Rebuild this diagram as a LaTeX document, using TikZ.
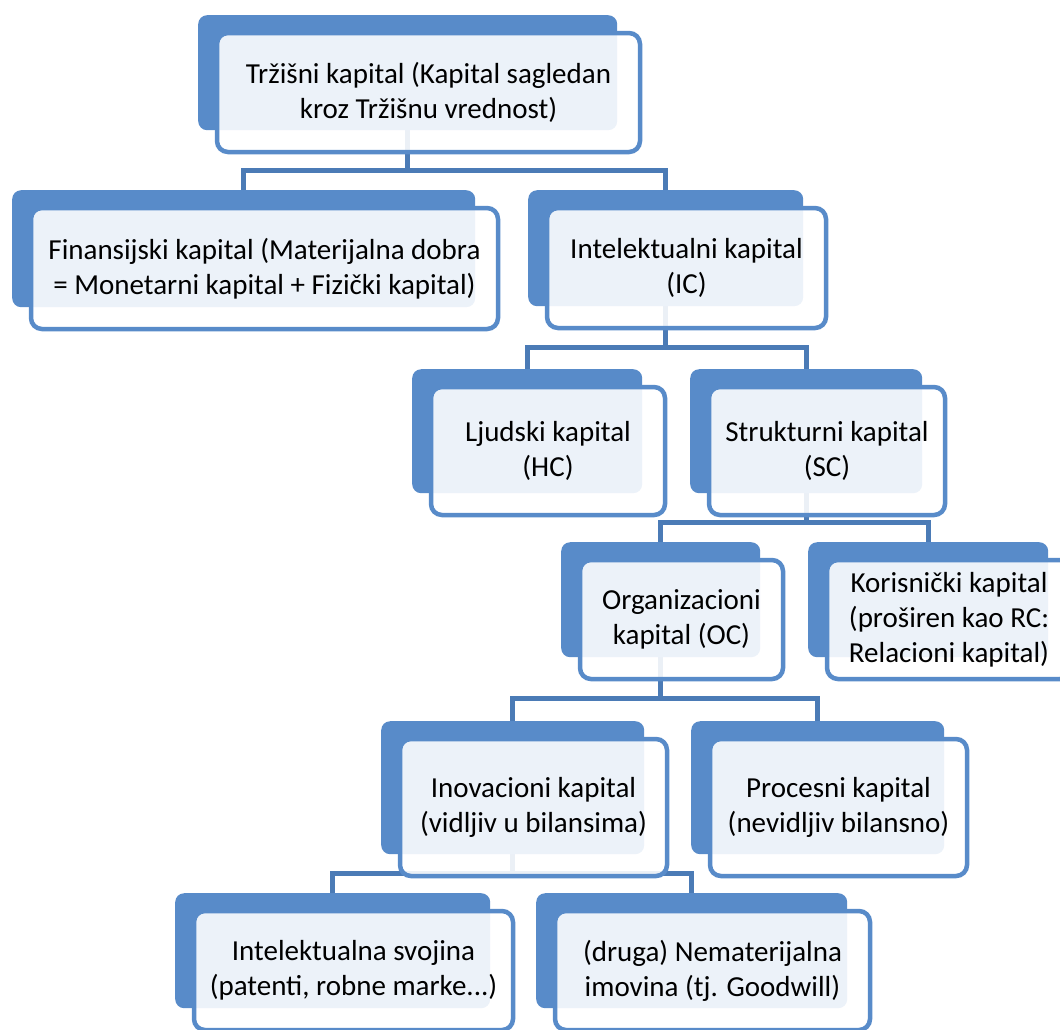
\documentclass[tikz,border=0pt]{standalone}
\usepackage{fontspec}
\setmainfont{Carlito}
\usetikzlibrary{positioning}
\pgfdeclarelayer{bg}
\pgfsetlayers{bg,main}
\definecolor{capblue}{HTML}{588BC9}
\definecolor{linkblue}{HTML}{4B7BB6}
\tikzset{
  backbox/.style 2 args={fill=capblue, rounded corners=9pt, inner sep=0pt,
    minimum width=#1, minimum height=#2, anchor=north west},
  frontbox/.style 2 args={draw=capblue, line width=4.5pt, fill=white,
    fill opacity=0.89, text opacity=1, rounded corners=11pt, inner sep=0pt,
    outer sep=0pt, minimum width=#1+4pt, minimum height=#2+4pt, align=center,
    font=\fontsize{29}{35}\selectfont},
  link/.style={draw=linkblue, line width=5pt},
}

\begin{document}
\begin{tikzpicture}[x=1pt, y=-1pt]
  \path[use as bounding box, clip] (0,0) rectangle (1060,1029);

  % Back boxes
  \node[backbox={419pt}{115pt}] (trz) at (198,15) {};
  \node[backbox={463pt}{117pt}] (fin) at (12,190) {};
  \node[backbox={275pt}{116pt}] (ic) at (528,190) {};
  \node[backbox={230pt}{124pt}] (hc) at (412,369) {};
  \node[backbox={232pt}{124pt}] (sc) at (690,369) {};
  \node[backbox={199pt}{115pt}] (oc) at (561,542) {};
  \node[backbox={240pt}{115pt}] (rc) at (808,542) {};
  \node[backbox={263pt}{133pt}] (ino) at (381,721) {};
  \node[backbox={253pt}{133pt}] (pro) at (691,721) {};
  \node[backbox={315pt}{115pt}] (ip) at (175,893) {};
  \node[backbox={311pt}{115pt}] (nm) at (536,893) {};

  % Front boxes with the texts
  \node[frontbox={419pt}{115pt}, below right=18pt and 19pt of trz.north west] (trzF)
    {Tržišni kapital (Kapital sagledan\\kroz Tržišnu vrednost)};
  \node[frontbox={463pt}{117pt}, below right=18pt and 19pt of fin.north west] (finF)
    {Finansijski kapital (Materijalna dobra\\= Monetarni kapital + Fizički kapital)};
  \node[frontbox={275pt}{116pt}, below right=18pt and 19pt of ic.north west] (icF)
    {Intelektualni kapital\\(IC)};
  \node[frontbox={230pt}{124pt}, below right=18pt and 19pt of hc.north west] (hcF)
    {Ljudski kapital\\(HC)};
  \node[frontbox={232pt}{124pt}, below right=18pt and 19pt of sc.north west] (scF)
    {Strukturni kapital\\(SC)};
  \node[frontbox={199pt}{115pt}, below right=18pt and 19pt of oc.north west] (ocF)
    {Organizacioni\\kapital (OC)};
  \node[frontbox={240pt}{115pt}, below right=18pt and 19pt of rc.north west] (rcF)
    {Korisnički kapital\\(proširen kao RC:\\Relacioni kapital)};
  \node[frontbox={263pt}{133pt}, below right=18pt and 19pt of ino.north west] (inoF)
    {Inovacioni kapital\\(vidljiv u bilansima)};
  \node[frontbox={253pt}{133pt}, below right=18pt and 19pt of pro.north west] (proF)
    {Procesni kapital\\(nevidljiv bilansno)};
  \node[frontbox={315pt}{115pt}, below right=18pt and 19pt of ip.north west] (ipF)
    {Intelektualna svojina\\(patenti, robne marke...)};
  \node[frontbox={311pt}{115pt}, below right=18pt and 19pt of nm.north west] (nmF)
    {(druga) Nematerijalna\\imovina (tj. Goodwill)};

  % Connectors
  \begin{pgfonlayer}{bg}
    \draw[link] (fin.north) -- ++(0,-20) -| (trz.south);
    \draw[link] (ic.north) -- ++(0,-20) -| (trz.south);
    \draw[link] (hc.north) -- ++(0,-22) -| (ic.south);
    \draw[link] (sc.north) -- ++(0,-22) -| (ic.south);
    \draw[link] (oc.north) -- ++(0,-20) -| (sc.south);
    \draw[link] (rc.north) -- ++(0,-20) -| (sc.south);
    \draw[link] (ino.north) -- ++(0,-23) -| (oc.south);
    \draw[link] (pro.north) -- ++(0,-23) -| (oc.south);
    \draw[link] (ip.north) -- ++(0,-20) -| (ino.south);
    \draw[link] (nm.north) -- ++(0,-20) -| (ino.south);
  \end{pgfonlayer}
\end{tikzpicture}
\end{document}
